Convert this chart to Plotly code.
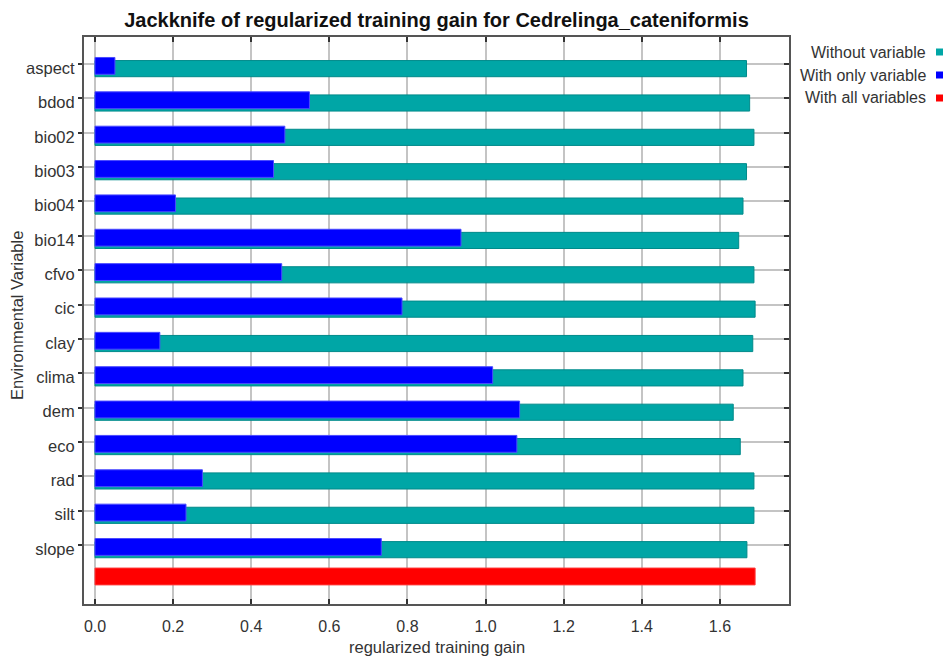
import plotly.graph_objects as go

# Environmental variables (top to bottom)
variables = ["aspect", "bdod", "bio02", "bio03", "bio04", "bio14", "cfvo", "cic",
             "clay", "clima", "dem", "eco", "rad", "silt", "slope"]

# Regularized training gain of models built without each variable
gain_without = [1.668, 1.676, 1.687, 1.668, 1.659, 1.648, 1.687, 1.690,
                1.684, 1.659, 1.634, 1.652, 1.687, 1.687, 1.669]

# Regularized training gain of models built with only each variable
gain_only = [0.051, 0.549, 0.486, 0.457, 0.206, 0.937, 0.478, 0.786,
             0.166, 1.018, 1.087, 1.080, 0.275, 0.233, 0.733]

# Gain of the full model
gain_all = 1.690

x_ticks = [0.0, 0.2, 0.4, 0.6, 0.8, 1.0, 1.2, 1.4, 1.6]
x_tick_labels = ["0.0", "0.2", "0.4", "0.6", "0.8", "1.0", "1.2", "1.4", "1.6"]

legend_names = ["Without variable", "With only variable", "With all variables"]
legend_colors = ["#00a6a6", "#0000ff", "#ff0000"]

W, H = 945, 657
L, R, T, B = 84, 789, 37, 604  # plot area edges in pixels
FONT = "Liberation Sans, Arial, sans-serif"

rows = list(range(len(variables)))
all_row = len(variables)


def px_x(p):
    return (p - L) / (R - L)


def px_y(p):
    return 1 - (p - T) / (B - T)


fig = go.Figure()

fig.add_trace(go.Bar(
    orientation="h", y=rows, x=gain_without, width=0.47, offset=-0.10,
    marker=dict(color=legend_colors[0], line=dict(color="#008a8a", width=1)),
    name=legend_names[0], showlegend=False, hoverinfo="x+name",
))
fig.add_trace(go.Bar(
    orientation="h", y=rows, x=gain_only, width=0.49, offset=-0.19,
    marker=dict(color=legend_colors[1], line=dict(color="#4a4aff", width=1)),
    name=legend_names[1], showlegend=False, hoverinfo="x+name",
))
fig.add_trace(go.Bar(
    orientation="h", y=[all_row], x=[gain_all], width=0.49, offset=-0.33,
    marker=dict(color=legend_colors[2], line=dict(color="#ff3a3a", width=1)),
    name=legend_names[2], showlegend=False, hoverinfo="x+name",
))
# carrier for the right-hand tick axis
fig.add_trace(go.Scatter(x=[0], y=[0], yaxis="y2", mode="markers",
                         marker=dict(opacity=0), showlegend=False, hoverinfo="skip"))

y_range = [(B - 64) / 34.36, (T - 64) / 34.36]
x_range = [(L - 95) / 390.6, (R - 95) / 390.6]

fig.update_layout(
    width=W, height=H,
    margin=dict(l=L, r=W - R, t=T, b=H - B),
    paper_bgcolor="white", plot_bgcolor="white",
    barmode="overlay",
    font=dict(family=FONT, size=16, color="#333333"),
    title=dict(
        text="<b>Jackknife of regularized training gain for Cedrelinga_cateniformis</b>",
        x=px_x((L + R) / 2), xref="paper", xanchor="center",
        y=1 - 20 / H, yref="container", yanchor="middle",
        font=dict(family=FONT, size=20, color="#111111"),
    ),
    xaxis=dict(
        range=x_range, tickvals=x_ticks, ticktext=x_tick_labels,
        ticks="inside", ticklen=5, tickwidth=1.5, tickcolor="#333333",
        showgrid=True, gridcolor="#c4c4c4", gridwidth=1.5, zeroline=False,
        showline=True, linecolor="#555555", linewidth=2, mirror="ticks",
        tickfont=dict(size=16, color="#333333"), ticklabelstandoff=7,
    ),
    yaxis=dict(
        range=y_range, tickvals=rows, ticktext=variables,
        ticks="outside", ticklen=4, tickwidth=1.5, tickcolor="#333333",
        showgrid=True, gridcolor="#c4c4c4", gridwidth=1.5, zeroline=False,
        showline=True, linecolor="#555555", linewidth=2, mirror=True,
        tickfont=dict(size=16.5, color="#333333"), ticklabelshift=-4,
    ),
    yaxis2=dict(
        overlaying="y", side="right", range=y_range, tickvals=rows,
        ticks="inside", ticklen=5, tickwidth=1.5, tickcolor="#333333",
        showticklabels=False, showgrid=False, zeroline=False, showline=False,
    ),
)

# axis titles
fig.add_annotation(text="regularized training gain", x=px_x((L + R) / 2), y=px_y(647),
                   xref="paper", yref="paper", showarrow=False,
                   xanchor="center", yanchor="middle",
                   font=dict(family=FONT, size=16.5, color="#333333"))
fig.add_annotation(text="Environmental Variable", x=px_x(17), y=px_y(316),
                   xref="paper", yref="paper", showarrow=False, textangle=-90,
                   xanchor="center", yanchor="middle",
                   font=dict(family=FONT, size=16.5, color="#333333"))

# legend: right-aligned labels with a small swatch after each
legend_y = [52, 75, 98]
for name, color, ly in zip(legend_names, legend_colors, legend_y):
    fig.add_annotation(text=name, x=px_x(928), y=px_y(ly), xref="paper", yref="paper",
                       showarrow=False, xanchor="right", yanchor="middle",
                       font=dict(family=FONT, size=16, color="#333333"))
    fig.add_shape(type="rect", xref="paper", yref="paper",
                  x0=px_x(936), x1=px_x(943), y0=px_y(ly + 3.5), y1=px_y(ly - 3.5),
                  fillcolor=color, line=dict(width=0))

fig.write_html("out.html")
